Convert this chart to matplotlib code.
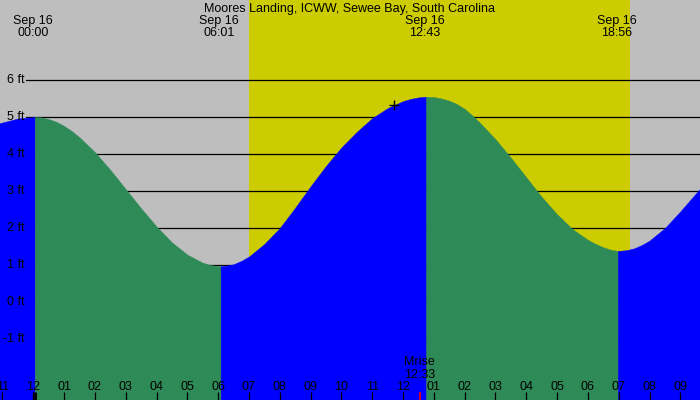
import matplotlib
matplotlib.use("Agg")
import matplotlib.pyplot as plt
from matplotlib.transforms import blended_transform_factory

# water level (ft), hours from Sep 16 00:00
hours = [-1.1, -0.5, 0.05,
         0.25, 0.5, 0.75, 1.0, 1.25, 1.5, 2.0, 2.5, 3.0, 3.5, 4.0, 4.5, 5.0, 5.5, 5.75, 6.0, 6.08,
         6.25, 6.5, 6.75, 7.0, 7.5, 8.0, 8.5, 9.0, 9.5, 10.0, 10.5, 11.0, 11.5, 12.0, 12.25,
         12.5, 12.75,
         13.0, 13.25, 13.5, 13.75, 14.0, 14.25, 14.5, 15.0, 15.5, 16.0, 16.5, 17.0, 17.5, 18.0,
         18.25, 18.5, 18.75, 18.97,
         19.25, 19.5, 19.75, 20.0, 20.5, 21.0, 21.5, 22.0]
levels = [4.83, 4.96, 5.0,
          4.99, 4.945, 4.87, 4.76, 4.62, 4.45, 4.05, 3.57, 3.05, 2.53, 2.04, 1.61, 1.28, 1.06, 1.0,
          0.97, 0.97,
          0.98, 1.02, 1.11, 1.23, 1.57, 2.0, 2.55, 3.13, 3.68, 4.18, 4.6, 4.97, 5.24, 5.43, 5.49,
          5.53, 5.55,
          5.54, 5.5, 5.44, 5.35, 5.22, 5.04, 4.84, 4.4, 3.9, 3.37, 2.84, 2.37, 1.97, 1.68,
          1.57, 1.48, 1.41, 1.38,
          1.4, 1.45, 1.54, 1.66, 2.0, 2.45, 2.93, 3.4]
turn_hours = [0.05, 6.08, 12.75, 18.97]

tide_hours = [0.0, 6.017, 12.717, 18.933]
tide_times = ['00:00', '06:01', '12:43', '18:56']
tide_day = 'Sep 16'

sunrise = 7.0
sunset = 19.37
moonrise = 12.55
moonrise_label = '12:33'
now_hour, now_level = 11.71, 5.32

ft_levels = [-1, 0, 1, 2, 3, 4, 5, 6]
tick_hours = list(range(-1, 22))
tick_labels = ['11', '12', '01', '02', '03', '04', '05', '06', '07', '08', '09', '10',
               '11', '12', '01', '02', '03', '04', '05', '06', '07', '08', '09']

title = 'Moores Landing, ICWW, Sewee Bay, South Carolina'

GRAY = '#bebebe'
DAY = '#cccc00'
FALL = '#2e8b57'
RISE = '#0000ff'

plt.rcParams['font.family'] = ['Liberation Sans', 'DejaVu Sans']
plt.rcParams['font.size'] = 9

W, H = 700, 400
fig = plt.figure(figsize=(7, 4), dpi=100)
fig.patch.set_facecolor(GRAY)
ax = fig.add_axes([0, 0, 1, 1])
ax.axis('off')
ymin, ymax = -2.649, 8.162
ax.set_xlim(-1.081, 21.638)
ax.set_ylim(ymin, ymax)

def py(y):
    # pixel row -> axes fraction
    return 1 - y / H

tx = blended_transform_factory(ax.transData, ax.transAxes)
ty = blended_transform_factory(ax.transAxes, ax.transData)

# daylight
ax.axvspan(sunrise, sunset, color=DAY, lw=0, zorder=0)

# level lines sit behind the water
for lv in ft_levels:
    ax.axhline(lv, xmin=26 / W, xmax=1, color='black', lw=0.9, zorder=1)

# water, green while falling, blue while rising
bounds = [0] + [hours.index(h) for h in turn_hours] + [len(hours) - 1]
for a, b in zip(bounds[:-1], bounds[1:]):
    seg_t = hours[a:b + 1]
    seg_l = levels[a:b + 1]
    col = RISE if seg_l[-1] > seg_l[0] else FALL
    ax.fill_between(seg_t, seg_l, ymin, facecolor=col, edgecolor=col, lw=0.3, zorder=2)

ax.plot([now_hour], [now_level], marker='+', color='black', ms=7, mew=1, zorder=4)

# y labels
for lv in ft_levels:
    ax.text(24.5 / W, lv, f'{lv} ft', transform=ty, ha='right', va='center', zorder=5)

# title and high/low times
ax.text(0.5, py(12), title, transform=ax.transAxes, ha='center', va='baseline', zorder=5)
for h, t in zip(tide_hours, tide_times):
    ax.text(h, py(24.3), tide_day, transform=tx, ha='center', va='baseline', zorder=5)
    ax.text(h, py(36), t, transform=tx, ha='center', va='baseline', zorder=5)

# hour ticks along the bottom
for h, lab in zip(tick_hours, tick_labels):
    ax.text(h, py(390), lab, transform=tx, ha='center', va='baseline', zorder=5)
ax.vlines(tick_hours, py(400), py(392), transform=tx, color='black', lw=0.9, zorder=5)
ax.vlines([0.04], py(400), py(392), transform=tx, color='black', lw=2.2, zorder=5)

# moonrise
ax.vlines([moonrise], py(400), py(392), transform=tx, color='red', lw=1.2, zorder=6)
ax.text(moonrise - 0.52, py(365), 'Mrise', transform=tx, ha='left', va='baseline', zorder=5)
ax.text(moonrise - 0.52, py(378.3), moonrise_label, transform=tx, ha='left', va='baseline', zorder=5)

fig.savefig('out.png', dpi=100, facecolor=fig.get_facecolor())
